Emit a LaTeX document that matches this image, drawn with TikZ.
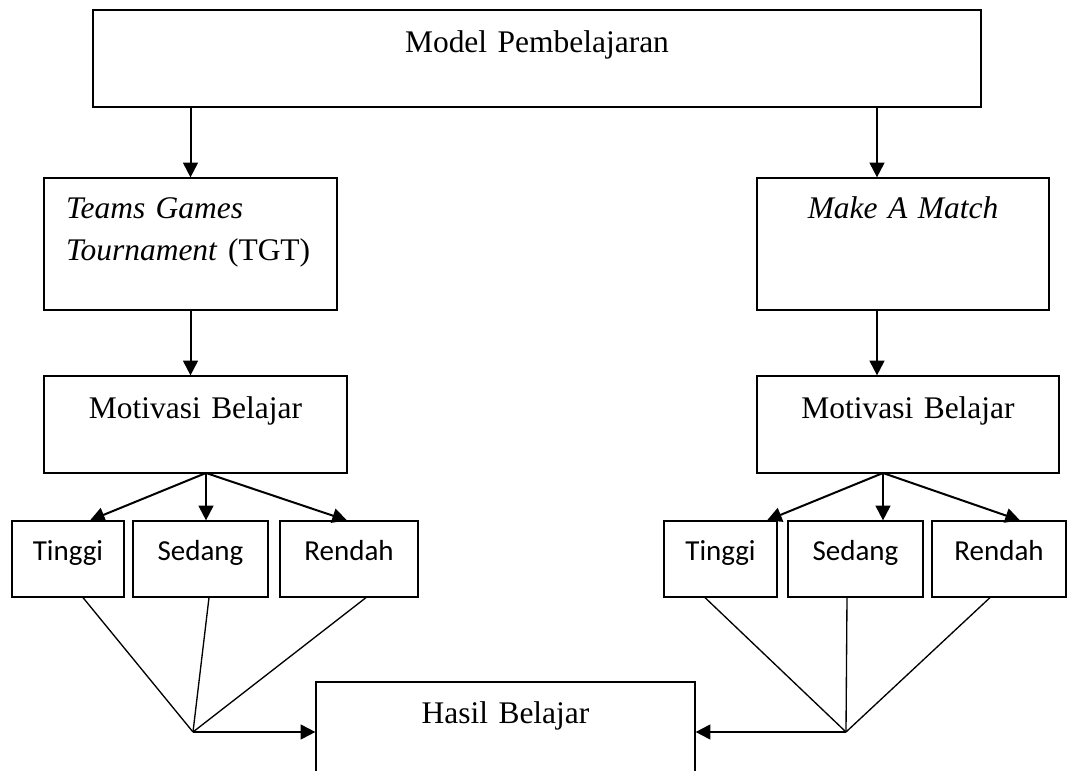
\documentclass[tikz,border=0pt]{standalone}
\usepackage{fontspec}
\setmainfont{Liberation Serif}
\newfontfamily\calibri{Carlito}
\usetikzlibrary{arrows.meta,calc}
\begin{document}
\begin{tikzpicture}[x=0.75pt,y=-0.75pt,
        kotak/.style={draw,line width=0.9pt,inner sep=0pt,align=center,font=\fontsize{23.6}{31.5}\selectfont},
        kecil/.style={draw,line width=0.9pt,inner sep=0pt,align=center,text height=29.25pt,text depth=27.75pt,font=\calibri\fontsize{21.75}{26}\selectfont},
        panah/.style={-{Triangle[length=11pt,width=11pt]},line width=1.5pt},
        garis/.style={line width=1pt}]
        \useasboundingbox(0,0)rectangle(1068,771);
        \node[kotak,text width=666pt,text height=31.5pt,text depth=41.25pt](1)at(537,58.5){Model Pembelajaran};
        \node[kotak,align=left,inner xsep=16.5pt,text width=186.75pt,text height=30pt,text depth=69pt](2)at(190.5,244){\textit{Teams Games}\\\textit{Tournament} (TGT)};
        \node[kotak,text width=219pt,text height=30pt,text depth=69pt](3)at(903,244){\textit{Make A Match}};
        \node[kotak,text width=227.25pt,text height=31.5pt,text depth=41.25pt](4)at(195.5,424.5){Motivasi Belajar};
        \node[kotak,text width=226.5pt,text height=31.5pt,text depth=41.25pt](5)at(908,424.5){Motivasi Belajar};
        \node[kecil,text width=84pt](6)at(68,559){Tinggi};
        \node[kecil,text width=101.25pt](7)at(200.5,559){Sedang};
        \node[kecil,text width=103.5pt](8)at(349,559){Rendah};
        \node[kecil,text width=84.75pt](9)at(720.5,559){Tinggi};
        \node[kecil,text width=101.25pt](10)at(855.5,559){Sedang};
        \node[kecil,text width=100.5pt](11)at(999,559){Rendah};
        \node[kotak,text width=284.25pt,text height=30.75pt,text depth=50.25pt](12)at(505.5,736){Hasil Belajar};
        \coordinate(a)at(877,0);
        \coordinate(p)at(206,473);
        \coordinate(q)at(883,473);
        \coordinate(r)at(193,732);
        \coordinate(s)at(846,732);
        \draw[panah](1.south-|2.north)--(2.north);
        \draw[panah](1.south-|a)--(3.north-|a);
        \draw[panah](2.south)--(2.south|-4.north);
        \draw[panah](3.south-|a)--(5.north-|a);
        \draw[panah](p)--($(6.north)+(22,0)$);
        \draw[panah](p)--(p|-7.north);
        \draw[panah](p)--($(8.north)+(-2,0)$);
        \draw[panah](q)--($(9.north)+(46.5,0)$);
        \draw[panah](q)--(q|-10.north);
        \draw[panah](q)--($(11.north)+(21,0)$);
        \draw[garis]($(6.south)+(15,0)$)--(r);
        \draw[garis]($(7.south)+(8.5,0)$)--(r);
        \draw[garis]($(8.south)+(17,0)$)--(r);
        \draw[garis]($(9.south)+(-15.5,0)$)--(s);
        \draw[garis]($(10.south)+(-8.5,0)$)--(s);
        \draw[garis]($(11.south)+(-9,0)$)--(s);
        \draw[panah](r)--(r-|12.west);
        \draw[panah](s)--(s-|12.east);
    \end{tikzpicture}
\end{document}
